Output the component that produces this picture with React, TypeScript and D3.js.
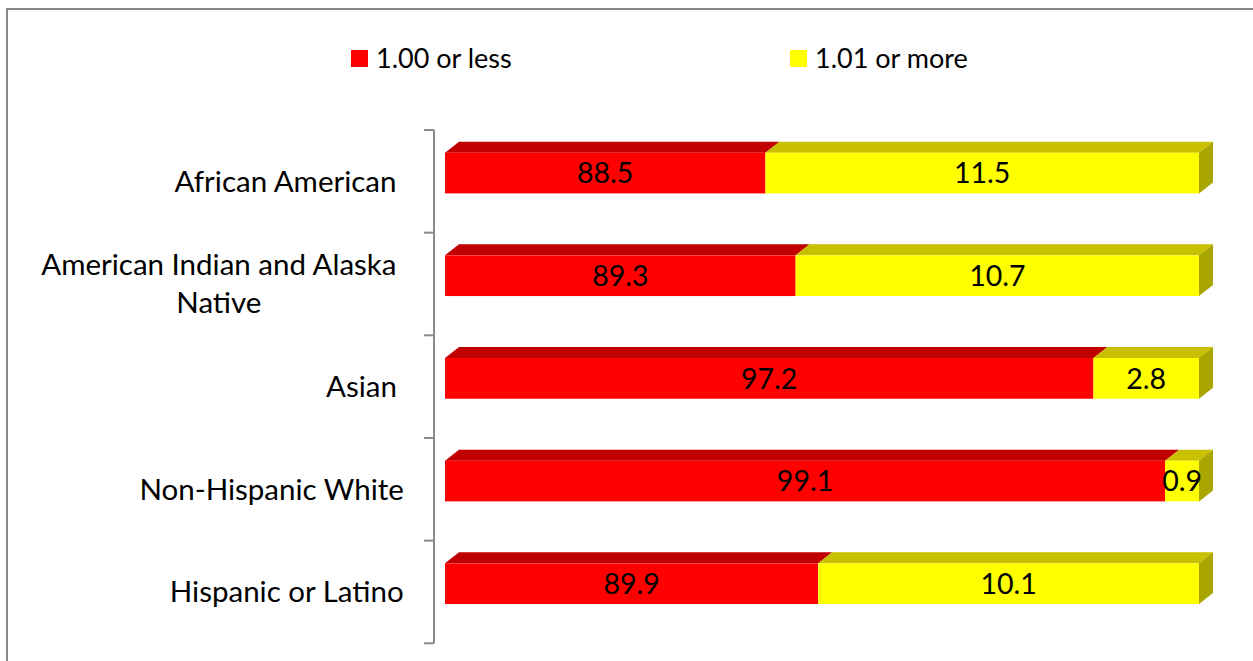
import React from "react";
import * as d3 from "d3";

const categories = [
  "African American",
  "American Indian and Alaska Native",
  "Asian",
  "Non-Hispanic White",
  "Hispanic or Latino",
];
const labelLines = [
  ["African American"],
  ["American Indian and Alaska", "Native"],
  ["Asian"],
  ["Non-Hispanic White"],
  ["Hispanic or Latino"],
];
const labelRightEdges = [397, 397, 397, 404, 404];
const lessValues = [88.5, 89.3, 97.2, 99.1, 89.9];
const moreValues = [11.5, 10.7, 2.8, 0.9, 10.1];
const seriesNames = ["1.00 or less", "1.01 or more"];
const axisDomain = [80, 100];

const W = 1253;
const H = 661;
const FONT = "Lato, 'Open Sans', sans-serif";
const FS_CAT = 29.5;
const FS_VAL = 28.5;
const FS_LEG = 27;

const frontColors = ["#FF0000", "#FFFF00"];
const topColors = ["#C00000", "#C8C000"];
const sideColor = "#AAA600";

let ctx: CanvasRenderingContext2D | null = null;
function measure(t: string, fs: number) {
  if (!ctx) {
    const c = document.createElement("canvas");
    ctx = c.getContext("2d");
  }
  if (!ctx) return t.length * fs * 0.5;
  ctx.font = `${fs}px Lato`;
  return ctx.measureText(t).width;
}

export default function App() {
  const x = d3.scaleLinear().domain(axisDomain).range([445, 1199]);
  const y = d3.scaleBand<string>().domain(categories).range([130, 643.3]).padding(0);
  const bw = y.bandwidth();
  const barH = 40.7;
  const frontOffset = 22.7;
  const dx = 14;
  const dy = 11;
  const axisX = 434;

  const stacks = categories.map((c, i) => {
    const segs = [
      { s: 0, a: axisDomain[0], b: lessValues[i], v: lessValues[i] },
      { s: 1, a: lessValues[i], b: lessValues[i] + moreValues[i], v: moreValues[i] },
    ];
    return { c, i, segs };
  });

  const ticks = [...categories.map((c) => y(c) as number), (y(categories[categories.length - 1]) as number) + bw];

  return (
    <div style={{ position: "absolute", left: 0, top: 0, width: W, height: H, overflow: "hidden" }}>
      <svg width={W} height={H} style={{ display: "block", fontFamily: FONT }}>
        <rect x={0} y={0} width={W} height={H} fill="#FFFFFF" />
        <rect x={7} y={9} width={1400} height={800} fill="none" stroke="#878787" strokeWidth={2} />

        {/* legend */}
        {seriesNames.map((n, k) => {
          const lx = k === 0 ? 351 : 790;
          return (
            <g key={n}>
              <rect x={lx} y={50} width={17} height={17} fill={frontColors[k]} />
              <text x={lx + 25} y={67.5} fontSize={FS_LEG} fill="#000">
                {n}
              </text>
            </g>
          );
        })}

        {/* axis */}
        <line x1={axisX} x2={axisX} y1={ticks[0]} y2={ticks[ticks.length - 1]} stroke="#8C8C8C" strokeWidth={2} />
        {ticks.map((t, k) => (
          <line key={k} x1={axisX - 10} x2={axisX} y1={t} y2={t} stroke="#8C8C8C" strokeWidth={2} />
        ))}

        {/* category labels */}
        {labelLines.map((lines, i) => {
          const c = categories[i];
          const center = (y(c) as number) + bw / 2;
          const lh = 38;
          const capH = FS_CAT * 0.7;
          const maxW = Math.max(...lines.map((l) => measure(l, FS_CAT)));
          const cx = labelRightEdges[i] - maxW / 2;
          return lines.map((l, j) => {
            const ly = center + (j - (lines.length - 1) / 2) * lh + capH / 2;
            return (
              <text key={`${i}-${j}`} x={cx} y={ly} fontSize={FS_CAT} textAnchor="middle" fill="#000">
                {l}
              </text>
            );
          });
        })}

        {/* bars: top faces */}
        {stacks.map(({ c, segs }) =>
          segs.map((sg) => {
            const ft = (y(c) as number) + frontOffset;
            const x0 = x(sg.a);
            const x1 = x(Math.min(sg.b, axisDomain[1]));
            const pts = [
              [x0, ft],
              [x0 + dx, ft - dy],
              [x1 + dx, ft - dy],
              [x1, ft],
            ];
            return <polygon key={`t-${c}-${sg.s}`} points={pts.map((p) => p.join(",")).join(" ")} fill={topColors[sg.s]} />;
          })
        )}
        {/* front faces */}
        {stacks.map(({ c, segs }) =>
          segs.map((sg) => {
            const ft = (y(c) as number) + frontOffset;
            const x0 = x(sg.a);
            const x1 = x(Math.min(sg.b, axisDomain[1]));
            return <rect key={`f-${c}-${sg.s}`} x={x0} y={ft} width={x1 - x0} height={barH} fill={frontColors[sg.s]} />;
          })
        )}
        {/* side faces */}
        {stacks.map(({ c, segs }) => {
          const sg = segs[segs.length - 1];
          const ft = (y(c) as number) + frontOffset;
          const x1 = x(Math.min(sg.b, axisDomain[1]));
          const pts = [
            [x1, ft],
            [x1 + dx, ft - dy],
            [x1 + dx, ft + barH - dy],
            [x1, ft + barH],
          ];
          return <polygon key={`s-${c}`} points={pts.map((p) => p.join(",")).join(" ")} fill={sideColor} />;
        })}
        {/* value labels */}
        {stacks.map(({ c, segs }) =>
          segs.map((sg) => {
            const ft = (y(c) as number) + frontOffset;
            const x0 = x(sg.a);
            const x1 = x(Math.min(sg.b, axisDomain[1]));
            return (
              <text
                key={`v-${c}-${sg.s}`}
                x={(x0 + x1) / 2}
                y={ft + barH / 2 + (FS_VAL * 0.72) / 2}
                fontSize={FS_VAL}
                textAnchor="middle"
                fill="#000"
              >
                {sg.v.toFixed(1)}
              </text>
            );
          })
        )}
      </svg>
    </div>
  );
}
